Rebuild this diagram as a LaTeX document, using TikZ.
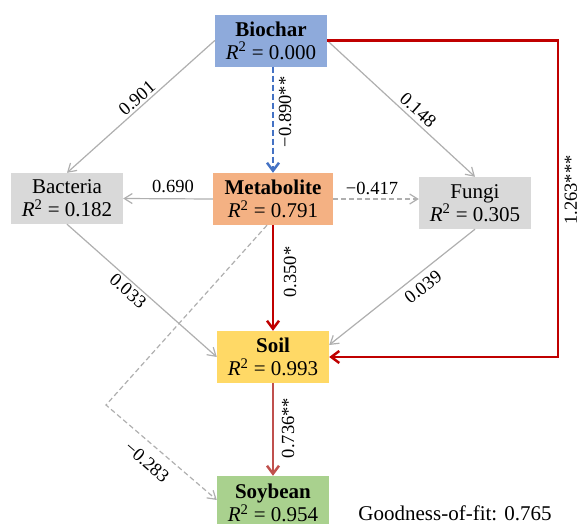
\documentclass[tikz,border=0pt]{standalone}
\usepackage{fontspec}
\setmainfont{Liberation Serif}
\usetikzlibrary{arrows.meta}
\definecolor{cblue}{HTML}{8EAADB}
\definecolor{corange}{HTML}{F4B183}
\definecolor{cyellow}{HTML}{FFD966}
\definecolor{cgreen}{HTML}{A9D18E}
\definecolor{cgray}{HTML}{D9D9D9}
\definecolor{cred}{HTML}{C00000}
\definecolor{cbrown}{HTML}{C0504D}
\definecolor{cdblue}{HTML}{4472C4}
\definecolor{cline}{HTML}{AFAFAF}
\begin{document}
\begin{tikzpicture}[x=1pt,y=-1pt,
  box/.style={rectangle, inner sep=0pt, minimum width=112pt, minimum height=52pt, align=center,
    font=\fontsize{21}{23}\selectfont},
  glink/.style={draw=cline, line width=1.2pt, -{Straight Barb[length=8pt,width=10pt]}},
  gdash/.style={glink, dash pattern=on 5pt off 3pt},
  rlink/.style={draw=cred, line width=2.5pt, -{Straight Barb[length=8pt,width=12pt]}},
  lab/.style={font=\fontsize{18.5}{20}\selectfont, inner sep=0pt}
]
\useasboundingbox (0,0) rectangle (582,523);
\begin{scope}
\clip (0,0) rectangle (582,523);
\node[box, fill=cblue] (bio) at (271,40.5) {\textbf{Biochar}\\{\itshape R}\textsuperscript{2} = 0.000};
\node[box, fill=corange, minimum width=120pt] (met) at (273,199) {\textbf{Metabolite}\\{\itshape R}\textsuperscript{2} = 0.791};
\node[box, fill=cgray, minimum height=51pt] (bact) at (67,198.5) {Bacteria\\{\itshape R}\textsuperscript{2} = 0.182};
\node[box, fill=cgray] (fun) at (475,203) {Fungi\\{\itshape R}\textsuperscript{2} = 0.305};
\node[box, fill=cyellow] (soil) at (273,357) {\textbf{Soil}\\{\itshape R}\textsuperscript{2} = 0.993};
\node[box, fill=cgreen, minimum height=54pt] (soy) at (273,503) {\textbf{Soybean}\\{\itshape R}\textsuperscript{2} = 0.954};
\end{scope}

\coordinate (rx) at (558,0);
\coordinate (bend) at (106,405);

% edges
\draw[glink] (bio.west) -- (bact.north);
\draw[glink] (bio.east) -- (fun.north);
\draw[draw=cdblue, line width=2.5pt, dash pattern=on 6pt off 3pt, -{Straight Barb[length=8pt,width=12pt]}] (bio.south -| met) -- (met.north);
\draw[rlink] (bio.east) -- (bio.east -| rx) |- (soil.east);
\draw[glink] (met.west) -- (bact.east);
\draw[gdash] (met.east) -- (fun.west |- met.east);
\draw[rlink] (met.south) -- (soil.north);
\draw[glink] (bact.south) -- (soil.west);
\draw[glink] (fun.south) -- ([yshift=12pt]soil.east);
\draw[gdash] ([xshift=-6pt]met.south) -- (bend) -- ([yshift=3pt]soy.west);
\draw[draw=cbrown, line width=2.5pt, -{Straight Barb[length=8pt,width=12pt]}] (soil.south) -- (soy.north);

% labels
\node[lab, rotate=90] (l1) at (285,112) {−0.890**};
\node[lab, rotate=41] (l2) at (137,98) {0.901};
\node[lab, rotate=-42] (l3) at (418,110) {0.148};
\node[lab] (l4) at (173,186) {0.690};
\node[lab] (l5) at (372,188) {−0.417};
\node[lab, rotate=90] (l6) at (290,272) {0.350*};
\node[lab, rotate=-41] (l7) at (128,291) {0.033};
\node[lab, rotate=38] (l8) at (423,287) {0.039};
\node[lab, rotate=90] (l9) at (571,190) {1.263***};
\node[lab, rotate=90] (l10) at (288,428) {0.736**};
\node[lab, rotate=-41] (l11) at (147,462) {−0.283};
\node[font=\fontsize{21}{23}\selectfont, inner sep=0pt] (gof) at (455,513) {Goodness-of-fit: 0.765};
\end{tikzpicture}
\end{document}
